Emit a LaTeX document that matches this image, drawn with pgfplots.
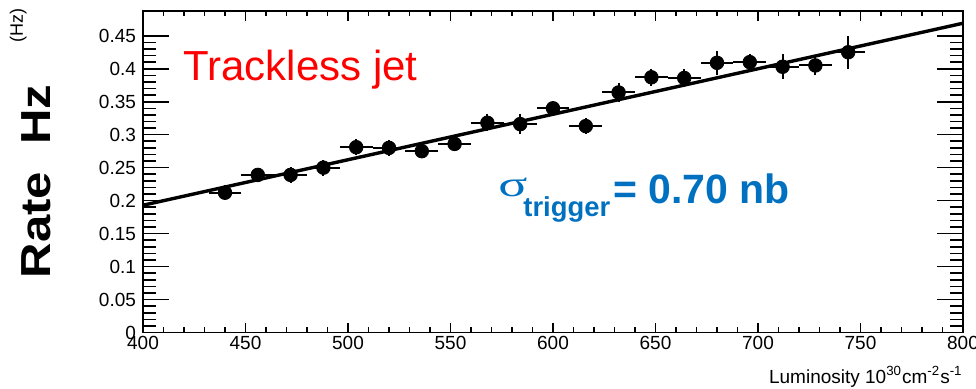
\documentclass[border=0pt]{standalone}
\usepackage{pgfplots}
\pgfplotsset{compat=1.18}
\usepackage{pgfplotstable}
\usepackage{graphicx}
\usepackage{fontspec}
\setmainfont{Liberation Sans}
\newfontfamily\serifgreek{Liberation Serif}
\definecolor{sigblue}{HTML}{0070C0}

\pgfplotstableread{
x y ex ey
440 0.212 8 0.011
456 0.239 8 0.010
472 0.239 8 0.012
488 0.250 8 0.012
504 0.281 8 0.012
520 0.280 8 0.012
536 0.275 8 0.011
552 0.286 8 0.011
568 0.318 8 0.013
584 0.316 8 0.015
600 0.340 8 0.010
616 0.313 8 0.012
632 0.364 8 0.015
648 0.387 8 0.013
664 0.386 8 0.013
680 0.409 8 0.018
696 0.410 8 0.013
712 0.403 8 0.019
728 0.405 8 0.015
744 0.425 8 0.025
}\ratedata

\begin{document}
\begin{tikzpicture}
\useasboundingbox (-71.5pt,-27.75pt) rectangle (416.5pt,166.25pt);
\begin{axis}[
  at={(0,0)}, anchor=south west,
  scale only axis, width=410pt, height=160.9pt,
  xmin=400, xmax=800, ymin=0, ymax=0.488,
  xtick={400,450,500,550,600,650,700,750,800},
  xticklabels={400,450,500,550,600,650,700,750,800},
  ytick={0,0.05,0.1,0.15,0.2,0.25,0.3,0.35,0.4,0.45},
  yticklabels={0,0.05,0.1,0.15,0.2,0.25,0.3,0.35,0.4,0.45},
  scaled ticks=false,
  minor x tick num=4, minor y tick num=4,
  tick align=inside, tick pos=both,
  xtick style={/pgfplots/major tick length=5pt,/pgfplots/minor tick length=2.6pt, line width=0.8pt, black},
  ytick style={/pgfplots/major tick length=13pt,/pgfplots/minor tick length=6.5pt, line width=0.8pt, black},
  axis line style={line width=0.9pt},
  tick label style={font=\fontsize{9.5}{10}\selectfont},
  xticklabel style={yshift=1.5pt},
  /pgf/number format/assume math mode=true,
]
\addplot[only marks, mark=*, mark size=3.4pt, black,
  error bars/.cd, x dir=both, x explicit, y dir=both, y explicit,
  error bar style={line width=1pt, black}, error mark=none]
  table[x=x, y=y, x error=ex, y error=ey] {\ratedata};
\addplot[line width=1.7pt, black] coordinates {(400,0.193) (800,0.469)};
\end{axis}
\node[anchor=base west, inner sep=0, text=red, font=\fontsize{21}{24}\selectfont] at (20pt,126.25pt) {Trackless jet};
\node[anchor=base west, inner sep=0, text=sigblue, font=\serifgreek\fontsize{18}{20}\selectfont] at (177.5pt,67.9pt) {\scalebox{1.5}[1]{σ}};
\node[anchor=base west, inner sep=0, text=sigblue, font=\bfseries\fontsize{13.7}{15}\selectfont] at (190pt,58.25pt) {trigger};
\node[anchor=base west, inner sep=0, text=sigblue, font=\bfseries\fontsize{20.5}{23}\selectfont] at (235pt,64.6pt) {= 0.70 nb};
\node[rotate=90, anchor=base, inner sep=0, font=\bfseries\fontsize{21}{24}\selectfont] at (-46pt,75.5pt) {\scalebox{1.17}[1]{Rate\ \ Hz}};
\node[rotate=90, anchor=base, inner sep=0, font=\fontsize{9}{10}\selectfont] at (-60pt,153.5pt) {(Hz)};
\node[anchor=base east, inner sep=0, font=\fontsize{9.5}{10}\selectfont] at (410pt,-25.25pt) {Luminosity 10\textsuperscript{30}cm\textsuperscript{-2}s\textsuperscript{-1}};
\end{tikzpicture}
\end{document}
